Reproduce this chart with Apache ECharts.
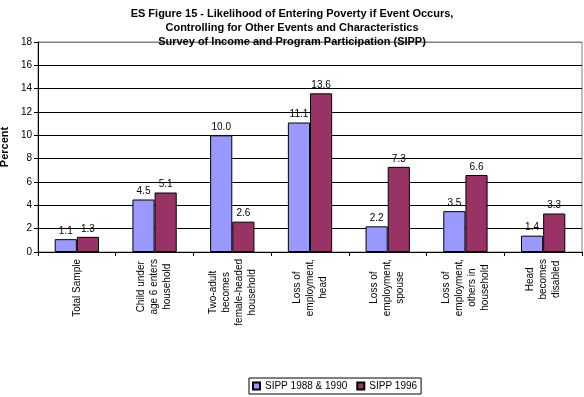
<!DOCTYPE html>
<html>
<head>
<meta charset="utf-8">
<script src="https://cdn.jsdelivr.net/npm/echarts@6/dist/echarts.min.js"></script>
<style>
  html, body { margin: 0; padding: 0; background: #fff; }
  #chart { width: 584px; height: 397px; }
</style>
</head>
<body>
<div id="chart"></div>
<script>
// categories (line breaks as in the source chart)
var categories = [
  'Total Sample',
  'Child under\nage 6 enters\nhousehold',
  'Two-adult\nbecomes\nfemale-headed\nhousehold',
  'Loss of\nemployment,\nhead',
  'Loss of\nemployment,\nspouse',
  'Loss of\nemployment,\nothers in\nhousehold',
  'Head\nbecomes\ndisabled'
];
var sipp8890 = [1.1, 4.5, 10.0, 11.1, 2.2, 3.5, 1.4];
var sipp96 = [1.3, 5.1, 2.6, 13.6, 7.3, 6.6, 3.3];
var seriesNames = ['SIPP 1988 & 1990', 'SIPP 1996'];

var font = 'Liberation Sans, Arial, sans-serif';
var myChart = echarts.init(document.getElementById('chart'));

// split lines: black, top one grey like the plot border
var splitColors = [];
for (var i = 0; i < 9; i++) splitColors.push('#000');
splitColors.push('#808080');

var option = {
  backgroundColor: '#fff',
  animation: false,
  title: {
    text: 'ES Figure 15 - Likelihood of Entering Poverty if Event Occurs,\nControlling for Other Events and Characteristics\nSurvey of Income and Program Participation (SIPP)',
    left: 'center',
    top: 2,
    textStyle: {
      fontFamily: font,
      fontSize: 11,
      fontWeight: 'bold',
      color: '#000',
      lineHeight: 14
    }
  },
  legend: {
    data: seriesNames,
    left: 249,
    top: 378,
    orient: 'horizontal',
    itemWidth: 7,
    itemHeight: 7,
    itemGap: 9,
    padding: [3, 4, 3, 3],
    borderColor: '#000',
    borderWidth: 1,
    icon: 'rect',
    textStyle: { fontFamily: font, fontSize: 10, color: '#000' }
  },
  grid: {
    left: 38,
    right: 2,
    top: 42,
    bottom: 145,
    outerBoundsMode: 'none',
    containLabel: false,
    show: true,
    borderColor: '#808080',
    borderWidth: 1,
    backgroundColor: '#fff'
  },
  xAxis: {
    type: 'category',
    data: categories,
    axisLine: { lineStyle: { color: '#000', width: 1 } },
    axisTick: { show: true, length: 4, lineStyle: { color: '#000' } },
    axisLabel: {
      rotate: 90,
      interval: 0,
      margin: 7,
      fontFamily: font,
      fontSize: 10,
      color: '#000',
      formatter: function (v) {
        return v.split('\n').map(function (s) { return '{c|' + s + '}'; }).join('\n');
      },
      rich: {
        c: { align: 'center', fontFamily: font, fontSize: 10, lineHeight: 13, color: '#000' }
      }
    }
  },
  yAxis: {
    type: 'value',
    min: 0,
    max: 18,
    interval: 2,
    name: 'Percent',
    nameLocation: 'middle',
    nameRotate: 90,
    nameGap: 26,
    nameTextStyle: { fontFamily: font, fontSize: 11, fontWeight: 'bold', color: '#000' },
    axisLine: { show: true, lineStyle: { color: '#000', width: 1 } },
    axisTick: { show: true, length: 4, lineStyle: { color: '#000' } },
    axisLabel: { fontFamily: font, fontSize: 10, color: '#000', margin: 6 },
    splitLine: { show: true, lineStyle: { color: splitColors, width: 1 } }
  },
  series: [
    {
      name: seriesNames[0],
      type: 'bar',
      data: sipp8890,
      barGap: '0%',
      barCategoryGap: '43%',
      itemStyle: { color: '#9999FF', borderColor: '#000', borderWidth: 1 },
      label: {
        show: true,
        position: 'top',
        distance: 3,
        fontFamily: font,
        fontSize: 10,
        color: '#000',
        formatter: function (p) { return p.value.toFixed(1); }
      }
    },
    {
      name: seriesNames[1],
      type: 'bar',
      data: sipp96,
      barGap: '0%',
      barCategoryGap: '43%',
      itemStyle: { color: '#993366', borderColor: '#000', borderWidth: 1 },
      label: {
        show: true,
        position: 'top',
        distance: 3,
        fontFamily: font,
        fontSize: 10,
        color: '#000',
        formatter: function (p) { return p.value.toFixed(1); }
      }
    }
  ]
};
myChart.setOption(option);
</script>
</body>
</html>
